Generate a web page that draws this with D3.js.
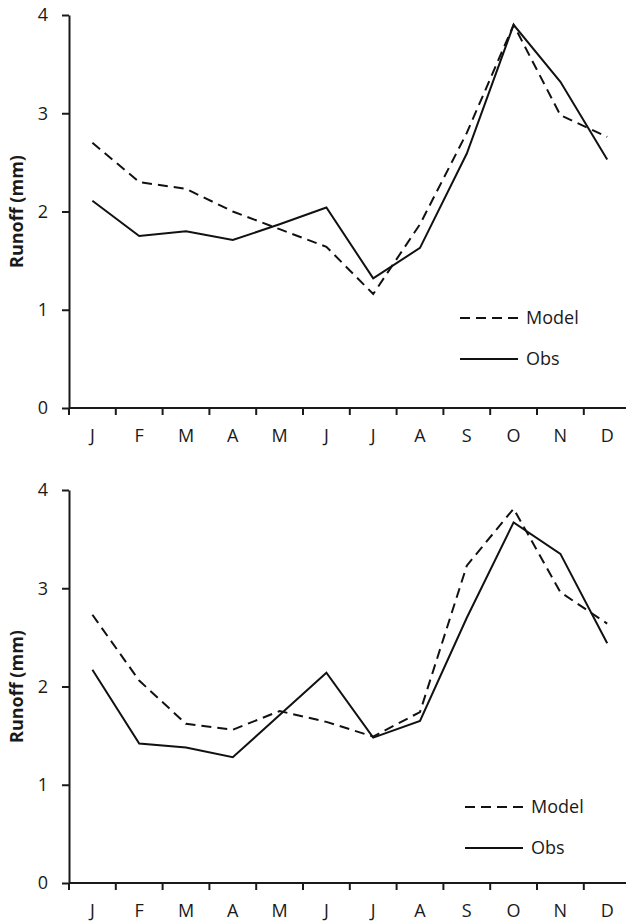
<!DOCTYPE html>
<html>
<head>
<meta charset="utf-8">
<script src="https://cdn.jsdelivr.net/npm/d3@7"></script>
<style>
  html, body { margin: 0; padding: 0; background: #ffffff; }
  svg { display: block; }
  text { font-family: "Open Sans", "Lato", sans-serif; fill: #1a1a1a; }
</style>
</head>
<body>
<svg id="chart" width="626" height="923"></svg>
<script>
// ---- data ----
const months = ["J", "F", "M", "A", "M", "J", "J", "A", "S", "O", "N", "D"];
const yTicks = [0, 1, 2, 3, 4];
const seriesNames = ["Model", "Obs"];
const topModel = [2.70, 2.30, 2.23, 2.00, 1.82, 1.64, 1.16, 1.87, 2.80, 3.90, 2.98, 2.76];
const topObs   = [2.11, 1.75, 1.80, 1.71, 1.87, 2.04, 1.32, 1.63, 2.59, 3.90, 3.32, 2.53];
const botModel = [2.73, 2.06, 1.62, 1.56, 1.75, 1.64, 1.49, 1.74, 3.23, 3.81, 2.96, 2.64];
const botObs   = [2.17, 1.42, 1.38, 1.28, 1.71, 2.14, 1.48, 1.65, 2.70, 3.67, 3.35, 2.44];
const yLabel = "Runoff (mm)";

// ---- layout ----
const svg = d3.select("#chart");
const axisX = 69;
const panels = [
  { model: topModel, obs: topObs, yTop: 15, yBottom: 408, legX: 460, legY: 318 },
  { model: botModel, obs: botObs, yTop: 490, yBottom: 883, legX: 465, legY: 807 }
];

const x = d3.scaleBand()
  .domain(d3.range(months.length))
  .range([axisX, axisX + 46.8 * months.length])
  .padding(0);
const cx = i => x(i) + x.bandwidth() / 2;

panels.forEach(p => {
  const g = svg.append("g");
  const y = d3.scaleLinear().domain([0, 4]).range([p.yBottom, p.yTop]);

  // y axis
  const yAxis = d3.axisLeft(y).tickValues(yTicks).tickFormat(d3.format("d"))
    .tickSizeInner(7).tickSizeOuter(0).tickPadding(14);
  const ya = g.append("g").attr("transform", `translate(${axisX},0)`).call(yAxis);
  ya.select(".domain").attr("stroke", "#1a1a1a").attr("stroke-width", 2);
  ya.selectAll(".tick line").attr("stroke", "#1a1a1a").attr("stroke-width", 2);
  ya.selectAll(".tick text").attr("font-size", 18).attr("fill", "#1a1a1a")
    .style("font-family", '"Open Sans", sans-serif');

  // x axis: ticks at category boundaries
  const xa = g.append("g").attr("transform", `translate(0,${p.yBottom})`);
  xa.append("line")
    .attr("x1", axisX).attr("x2", x.range()[1])
    .attr("stroke", "#1a1a1a").attr("stroke-width", 2);
  xa.selectAll("line.tk").data(d3.range(months.length + 1)).join("line")
    .attr("class", "tk")
    .attr("x1", i => i < months.length ? x(i) : x.range()[1])
    .attr("x2", i => i < months.length ? x(i) : x.range()[1])
    .attr("y1", 0).attr("y2", 7)
    .attr("stroke", "#1a1a1a").attr("stroke-width", 2);
  xa.selectAll("text").data(months).join("text")
    .attr("x", (d, i) => cx(i))
    .attr("y", 34)
    .attr("text-anchor", "middle")
    .attr("font-size", 18)
    .text(d => d);

  // y label
  g.append("text")
    .attr("transform", `translate(23,${(p.yTop + p.yBottom) / 2}) rotate(-90)`)
    .attr("text-anchor", "middle")
    .attr("font-size", 18)
    .attr("font-weight", "bold")
    .text(yLabel);

  const line = d3.line().x((d, i) => cx(i)).y(d => y(d));

  g.append("path").datum(p.model)
    .attr("d", line).attr("fill", "none")
    .attr("stroke", "#111").attr("stroke-width", 2)
    .attr("stroke-dasharray", "10,6");
  g.append("path").datum(p.obs)
    .attr("d", line).attr("fill", "none")
    .attr("stroke", "#111").attr("stroke-width", 2);

  // legend
  const leg = g.append("g").attr("transform", `translate(${p.legX},${p.legY})`);
  seriesNames.forEach((name, k) => {
    const yy = k * 41;
    leg.append("line")
      .attr("x1", 0).attr("x2", 58).attr("y1", yy).attr("y2", yy)
      .attr("stroke", "#111").attr("stroke-width", 2)
      .attr("stroke-dasharray", k === 0 ? "10,6" : null);
    leg.append("text")
      .attr("x", 66).attr("y", yy)
      .attr("dy", "0.35em")
      .attr("font-size", 18)
      .text(name);
  });
});
</script>
</body>
</html>
